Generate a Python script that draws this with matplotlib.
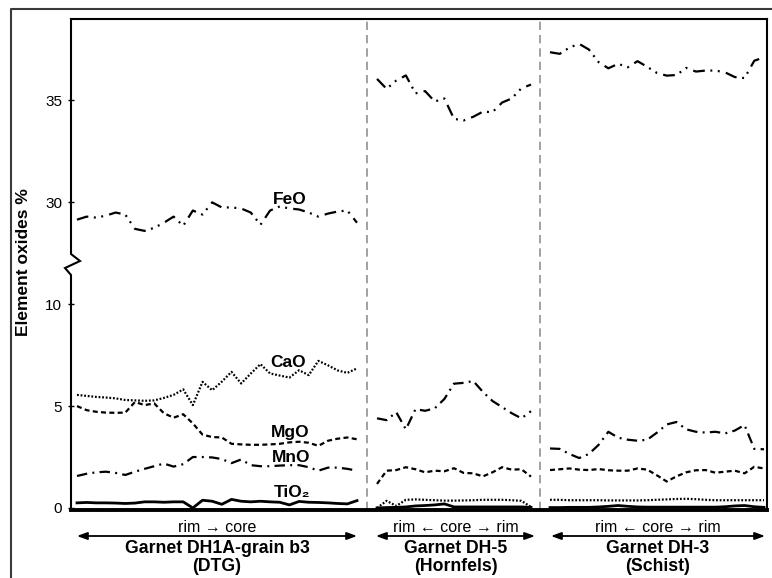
import numpy as np
import matplotlib
matplotlib.use("Agg")
import matplotlib.pyplot as plt
from matplotlib.lines import Line2D

plt.rcParams['font.family'] = ['Liberation Sans', 'DejaVu Sans']
plt.rcParams['lines.scale_dashes'] = False

# ---------------- data ----------------
# DTG section (Garnet DH1A-grain b3), rim -> core
feo_a = [29.15, 29.3, 29.25, 29.35, 29.5, 29.4, 28.7, 28.6, 28.75, 29.0, 29.3, 28.85,
         29.6, 29.4, 30.0, 29.75, 29.75, 29.7, 29.5, 28.9, 29.6, 29.8, 29.7, 29.65,
         29.5, 29.3, 29.45, 29.55, 29.6, 29.0]
cao_a = [5.55, 5.5, 5.45, 5.42, 5.38, 5.3, 5.28, 5.26, 5.28, 5.4, 5.55, 5.82, 5.05, 6.19,
         5.78, 6.2, 6.68, 6.11, 6.6, 7.06, 6.6, 6.5, 6.4, 6.76, 6.52, 7.22, 7.0, 6.75, 6.63, 6.85]
mgo_a = [5.0, 4.8, 4.72, 4.68, 4.67, 4.68, 5.2, 5.05, 5.13, 4.65, 4.43, 4.6, 4.15, 3.6,
         3.48, 3.46, 3.15, 3.12, 3.1, 3.1, 3.12, 3.15, 3.22, 3.25, 3.2, 3.05, 3.3, 3.4, 3.46, 3.37]
mno_a = [1.57, 1.68, 1.75, 1.78, 1.72, 1.62, 1.78, 1.92, 2.05, 2.18, 2.03, 2.15, 2.5, 2.5,
         2.48, 2.4, 2.2, 2.38, 2.1, 2.05, 2.05, 2.08, 2.1, 2.1, 2.0, 1.83, 1.98, 1.98, 1.92, 1.83]
tio2_a = [0.25, 0.27, 0.25, 0.25, 0.24, 0.22, 0.24, 0.3, 0.3, 0.28, 0.3, 0.3, 0.0, 0.38,
          0.33, 0.18, 0.42, 0.33, 0.3, 0.33, 0.3, 0.28, 0.15, 0.32, 0.28, 0.27, 0.25, 0.22, 0.2, 0.36]

# Hornfels section (Garnet DH-5), rim <- core -> rim
feo_b = [36.06, 35.57, 35.98, 36.23, 35.35, 35.46, 34.95, 35.1, 34.1, 34.02, 34.2, 34.45,
         34.43, 34.9, 35.1, 35.6, 35.78]
mno_b = [4.4, 4.31, 4.7, 3.86, 4.85, 4.77, 4.89, 5.35, 6.1, 6.14, 6.23, 5.7, 5.25, 4.95,
         4.65, 4.4, 4.75]
mgo_b = [1.18, 1.83, 1.86, 2.0, 1.9, 1.75, 1.83, 1.8, 1.95, 1.72, 1.7, 1.55, 1.75, 2.0,
         1.88, 1.9, 1.54]
cao_b = [0.0, 0.35, 0.1, 0.4, 0.42, 0.4, 0.38, 0.36, 0.36, 0.37, 0.38, 0.4, 0.4, 0.4,
         0.38, 0.35, 0.05]
tio2_b = [0.0, 0.02, 0.03, 0.05, 0.1, 0.12, 0.15, 0.2, 0.05, 0.05, 0.05, 0.05, 0.05, 0.05,
          0.05, 0.05, 0.03]

# Schist section (Garnet DH-3), rim <- core -> rim
feo_c = [37.37, 37.29, 37.6, 37.78, 37.5, 36.88, 36.58, 36.8, 36.63, 36.93, 36.65, 36.35,
         36.22, 36.25, 36.6, 36.42, 36.47, 36.47, 36.38, 36.15, 36.1, 36.95, 37.12]
mno_c = [2.92, 2.9, 2.65, 2.45, 2.65, 3.1, 3.74, 3.45, 3.35, 3.3, 3.35, 3.7, 4.1, 4.22,
         3.86, 3.74, 3.7, 3.74, 3.66, 3.8, 4.07, 2.9, 2.88]
mgo_c = [1.86, 1.9, 1.94, 1.88, 1.86, 1.91, 1.85, 1.83, 1.83, 1.94, 1.88, 1.6, 1.3, 1.55,
         1.75, 1.85, 1.86, 1.73, 1.78, 1.83, 1.7, 2.02, 1.94]
cao_c = [0.4, 0.4, 0.38, 0.38, 0.38, 0.38, 0.37, 0.37, 0.37, 0.37, 0.38, 0.4, 0.42, 0.44,
         0.45, 0.43, 0.4, 0.38, 0.38, 0.38, 0.38, 0.38, 0.38]
tio2_c = [0.02, 0.02, 0.03, 0.03, 0.03, 0.05, 0.08, 0.12, 0.08, 0.05, 0.04, 0.04, 0.04, 0.04,
          0.04, 0.04, 0.04, 0.04, 0.06, 0.1, 0.12, 0.06, 0.03]

yticks = [0, 5, 10, 30, 35]
series_names = ["FeO", "CaO", "MgO", "MnO", "TiO₂"]
section_profiles = ["rim → core", "rim ← core → rim", "rim ← core → rim"]
section_titles = [("Garnet DH1A-grain b3", "(DTG)"), ("Garnet DH-5", "(Hornfels)"),
                  ("Garnet DH-3", "(Schist)")]

# ---------------- layout ----------------
W, H = 772, 578
fig = plt.figure(figsize=(W / 100, H / 100), dpi=100)
ax = fig.add_axes([71 / W, 1 - 510 / H, 696 / W, 491 / H])
aw, ah = 696, 491

def fwd(y):
    return np.interp(y, [-1000, 12, 27, 1000], [-1000, 12, 12.0001, 985.0001])

def inv(t):
    return np.interp(t, [-1000, 12, 12.0001, 985.0001], [-1000, 12, 27, 1000])

ax.set_yscale('function', functions=(fwd, inv))
ax.set_xlim(71, 767)
ax.set_ylim(-0.1, 39)

sections = [
    (np.linspace(77, 357, len(feo_a)), [feo_a, cao_a, mgo_a, mno_a, tio2_a]),
    (np.linspace(377, 531, len(feo_b)), [feo_b, cao_b, mgo_b, mno_b, tio2_b]),
    (np.linspace(550, 764, len(feo_c)), [feo_c, cao_c, mgo_c, mno_c, tio2_c]),
]

styles = [
    dict(lw=1.6, dashes=(8.5, 4.0, 1.4, 4.0, 1.4, 4.5)),   # FeO dash-dot-dot
    dict(lw=1.6, dashes=(1.3, 1.3)),                      # CaO dotted
    dict(lw=1.6, dashes=(3.6, 2.4)),                      # MgO dashed
    dict(lw=1.6, dashes=(7.5, 3.8, 1.4, 3.8)),            # MnO dash-dot
    dict(lw=2.0, linestyle='-'),                          # TiO2 solid
]

for xs, vals in sections:
    for v, st in zip(vals, styles):
        ax.plot(xs, v, color='black', solid_joinstyle='round', dash_capstyle='butt', **st)

# section separators
for xb in (366.7, 540):
    ax.axvline(xb, color='#9a9a9a', lw=1.3, dashes=(6, 3.6))

# series labels
lab_pos = [(290, 29.94), (288, 6.93), (290, 3.46), (291, 2.25), (292, 0.55)]
for name, (x, y) in zip(series_names, lab_pos):
    ax.text(x, y, name, ha='center', va='baseline', fontsize=12.5, fontweight='bold')

# axes styling
ax.set_xticks([])
ax.set_yticks(yticks)
ax.set_yticklabels([str(t) for t in yticks])
ax.tick_params(axis='y', direction='inout', length=4, width=1, labelsize=11, pad=4.5)
ax.spines['left'].set_visible(False)
ax.spines['top'].set_linewidth(1.5)
ax.spines['right'].set_linewidth(1.5)
ax.spines['bottom'].set_linewidth(2.8)

# left spine with break mark
bx = [0, 0, 9 / aw, -6 / aw, 0, 0]
by = [1, (510 - 254) / ah, (510 - 261) / ah, (510 - 268) / ah, (510 - 275) / ah, 0]
ax.add_line(Line2D(bx, by, transform=ax.transAxes, color='black', lw=1.5,
                   clip_on=False, solid_joinstyle='miter'))

ax.set_ylabel("Element oxides %", fontsize=12.5, fontweight='bold', va='center')
ax.yaxis.set_label_coords((24 - 71) / aw, (510 - 262) / ah)

# bottom annotations
xt = ax.get_xaxis_transform()
spans = [(77, 357), (376, 535), (551, 765)]
for (x0, x1), prof, (t1, t2) in zip(spans, section_profiles, section_titles):
    xc = (x0 + x1) / 2
    ax.annotate('', xy=(x0, -(536 - 510) / ah), xytext=(x1, -(536 - 510) / ah), xycoords=xt,
                textcoords=xt, annotation_clip=False,
                arrowprops=dict(arrowstyle='<|-|>,head_length=0.6,head_width=0.22',
                                color='black', lw=1.3, shrinkA=0, shrinkB=0,
                                mutation_scale=10))
    ax.text(xc, -(532 - 510) / ah, prof, transform=xt, ha='center', va='baseline',
            fontsize=11.5)
    ax.text(xc, -(553 - 510) / ah, t1, transform=xt, ha='center', va='baseline',
            fontsize=12.7, fontweight='bold')
    ax.text(xc, -(571 - 510) / ah, t2, transform=xt, ha='center', va='baseline',
            fontsize=12.7, fontweight='bold')

# outer frame
fig.add_artist(Line2D([11 / W, 11 / W, 1], [0, 1 - 9 / H, 1 - 9 / H],
                      transform=fig.transFigure, color='#3a3a3a', lw=1.5))

fig.savefig("out.png", dpi=100)
